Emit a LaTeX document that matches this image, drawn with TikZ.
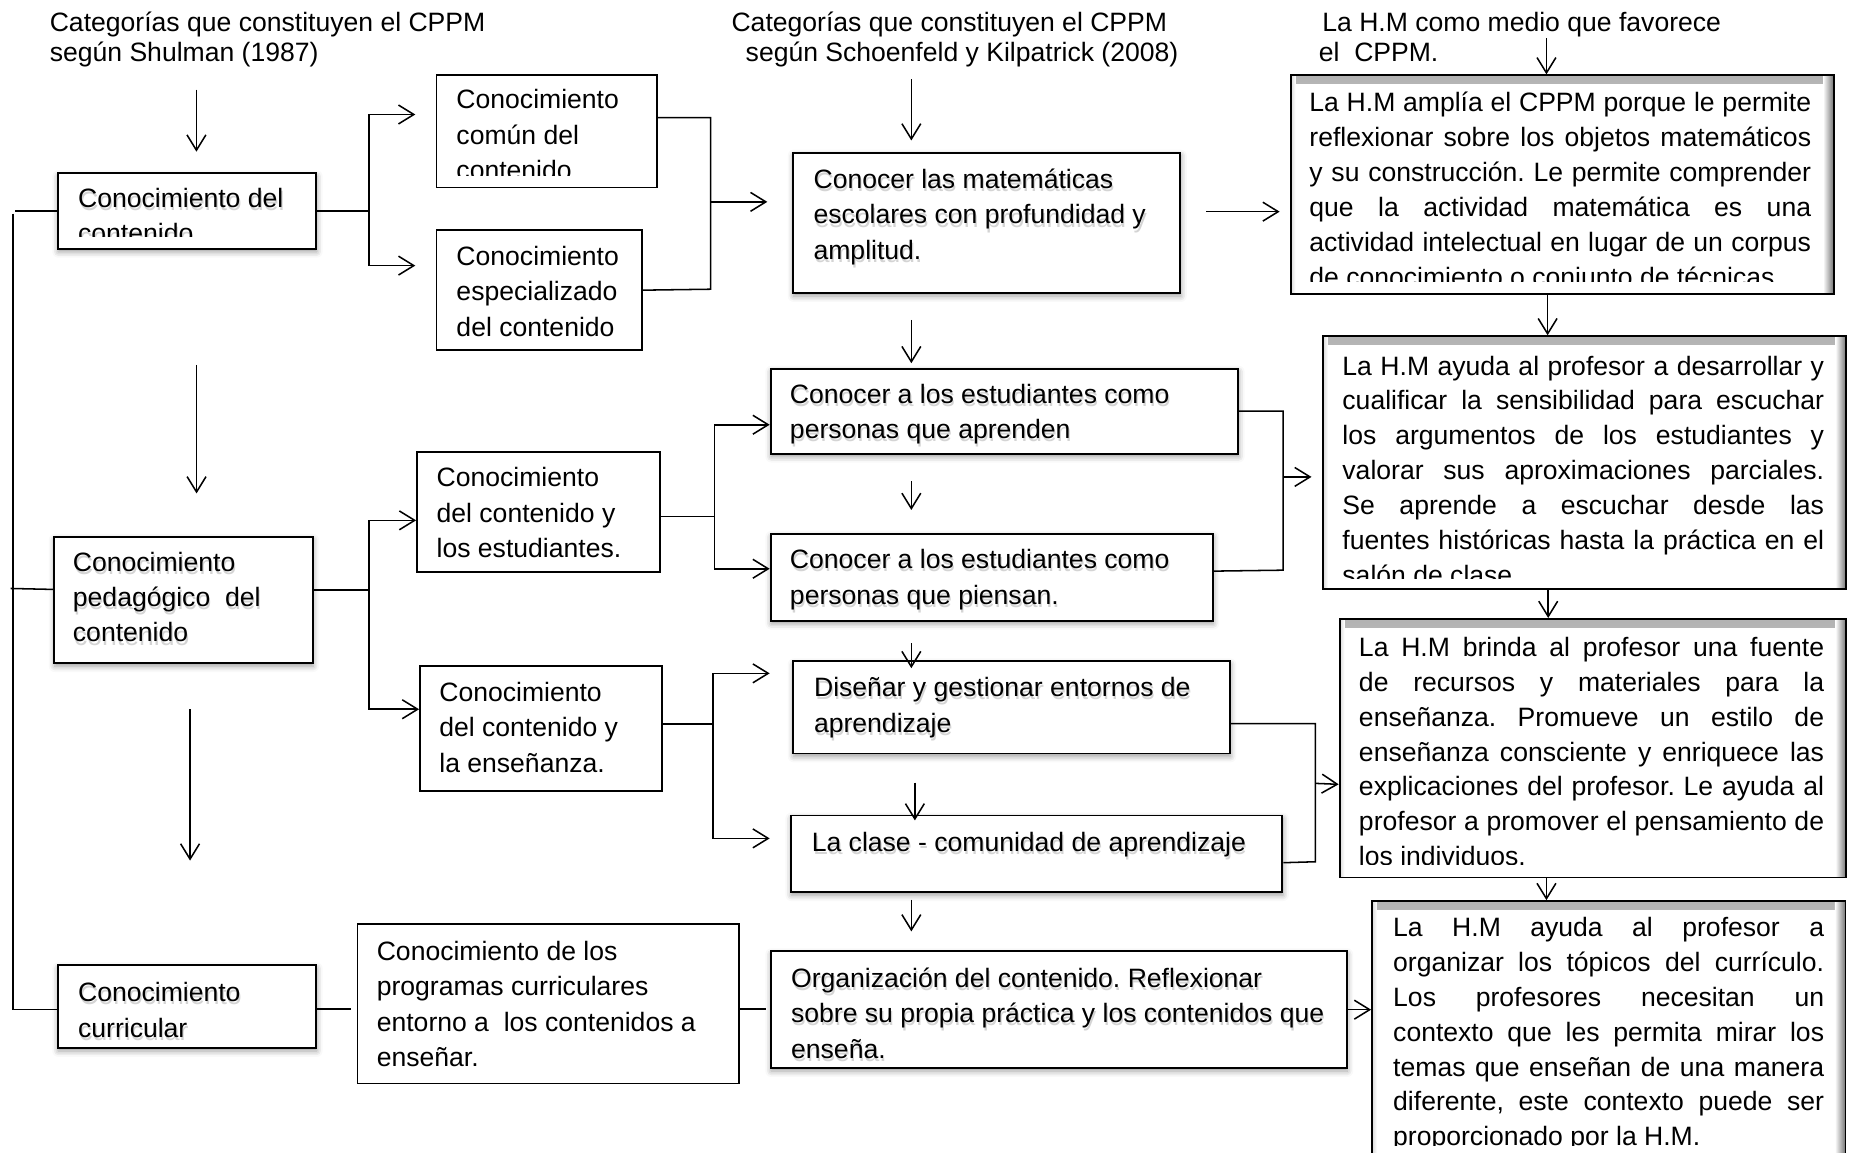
\documentclass[tikz,border=0pt]{standalone}
\usepackage{fontspec}
\setmainfont{Liberation Sans}
\usetikzlibrary{arrows.meta,shadows.blur}
\frenchspacing

% soft grey shadow under a line of text
\newcommand\txsh[1]{%
  \rlap{\smash{\raisebox{-2.6pt}{\kern1pt\textcolor{black!17}{#1}}}}%
  #1}
% a justified line of given width (pt)
\newcommand\jl[2]{\makebox[#1pt][s]{#2}}

\tikzset{
  line/.style={draw=black, line width=1.3pt},
  arr/.style={line, -{Straight Barb[length=13pt,width=16pt]}},
  box/.style={draw=black, line width=1.6pt, fill=white, rectangle,
    inner sep=0pt, anchor=north west},
  shbox/.style={box, blur shadow={shadow xshift=0.5pt, shadow yshift=-2.5pt,
    shadow blur radius=5pt, shadow opacity=40}},
  hbox/.style={box, path picture={
    \shade[top color=black!30, bottom color=white]
      (path picture bounding box.north west) rectangle ([yshift=-7pt]path picture bounding box.north east);
    \shade[left color=black!15, right color=white]
      (path picture bounding box.north west) rectangle ([xshift=4pt]path picture bounding box.south west);
    \shade[left color=white, right color=black!55]
      ([xshift=-9pt]path picture bounding box.north east) rectangle (path picture bounding box.south east);
  }},
  txt/.style={anchor=north west, inner sep=0pt, align=left,
    font=\fontsize{22.5}{30}\selectfont},
  htxt/.style={txt, font=\fontsize{22.5}{29.5}\selectfont},
  ttl/.style={txt, font=\fontsize{22.5}{25.4}\selectfont},
}

\begin{document}
\begin{tikzpicture}[x=1pt,y=-1pt]
\useasboundingbox (0,0) rectangle (1568,976);
\clip (0,0) rectangle (1568,976);

% ---------- headings ----------
\node[ttl] (t1) at (42,9) {\strut Categorías que constituyen el CPPM\\según Shulman (1987)};
\node[ttl] (t2) at (619.5,9) {\strut Categorías que constituyen el CPPM\\\hspace*{12pt}según Schoenfeld y Kilpatrick (2008)};
\node[ttl] (t3) at (1117,9) {\strut\hspace*{3pt}La H.M como medio que favorece\\el~~CPPM.};

% ---------- boxes ----------
\node[shbox, minimum width=219pt, minimum height=64pt]  (cd)   at (48,146) {};
\node[shbox, minimum width=219pt, minimum height=107pt] (cp)   at (45,454) {};
\node[shbox, minimum width=219pt, minimum height=70pt]  (cc)   at (48,817) {};
\node[box,   minimum width=187pt, minimum height=95pt]  (ccc)  at (369,63) {};
\node[box,   minimum width=174pt, minimum height=102pt] (cec)  at (369,194) {};
\node[box,   minimum width=205.5pt, minimum height=101.5pt] (cde) at (352.5,382) {};
\node[box,   minimum width=205pt, minimum height=106pt] (cden) at (355,563.5) {};
\node[box,   minimum width=323pt, minimum height=135pt] (cpc)  at (302,782) {};
\node[shbox, minimum width=328pt, minimum height=119pt] (cm)   at (671,128.5) {};
\node[shbox, minimum width=396pt, minimum height=72pt]  (ce1)  at (652,311.5) {};
\node[shbox, minimum width=374.5pt, minimum height=73.5pt] (ce2) at (652,451.5) {};
\node[shbox, minimum width=370pt, minimum height=78pt]  (dg)   at (671,559.5) {};
\node[shbox, minimum width=416.5pt, minimum height=65pt] (lc)  at (669,690) {};
\node[shbox, minimum width=488pt, minimum height=99pt]  (oc)   at (652,805) {};
\node[hbox,  minimum width=460pt, minimum height=185pt] (h1)   at (1092.5,63) {};
\node[hbox,  minimum width=443pt, minimum height=214pt] (h2)   at (1120,284) {};
\node[hbox,  minimum width=429pt, minimum height=219pt] (h3)   at (1134,523.5) {};
\node[hbox,  minimum width=401pt, minimum height=240pt] (h4)   at (1161.5,762.5) {};

% ---------- box texts ----------
\begin{scope}
  \clip (48,146) rectangle (267,200);
  \node[txt] (cd-t) at (66,154.6) {\strut\txsh{Conocimiento del}\\\txsh{contenido}};
\end{scope}
\begin{scope}
  \clip (369,63) rectangle (556,149);
  \node[txt] (ccc-t) at (386.5,71) {\strut Conocimiento\\común del\\contenido};
\end{scope}
\node[txt] (cec-t) at (386.5,203.5) {\strut Conocimiento\\especializado\\del contenido};
\node[txt] (cp-t) at (61.6,462.6) {\strut\txsh{Conocimiento}\\\txsh{pedagógico~~del}\\\txsh{contenido}};
\node[txt] (cc-t) at (66,827.3) {\strut\txsh{Conocimiento}\\\txsh{curricular}};
\node[txt] (cde-t) at (369.7,391.2) {\strut Conocimiento\\del contenido y\\los estudiantes.};
\node[txt] (cden-t) at (372,573) {\strut Conocimiento\\del contenido y\\la enseñanza.};
\node[txt] (cpc-t) at (319,792.2) {\strut Conocimiento de los\\programas curriculares\\entorno a~~los contenidos a\\enseñar.};
\node[txt] (cm-t) at (689,138.5) {\strut\txsh{Conocer las matemáticas}\\\txsh{escolares con profundidad y}\\\txsh{amplitud.}};
\node[txt] (ce1-t) at (669,320.6) {\strut\txsh{Conocer a los estudiantes como}\\\txsh{personas que aprenden}};
\node[txt] (ce2-t) at (669,460.5) {\strut\txsh{Conocer a los estudiantes como}\\\txsh{personas que piensan.}};
\node[txt] (dg-t) at (689.4,569) {\strut\txsh{Diseñar y gestionar entornos de}\\\txsh{aprendizaje}};
\node[txt] (lc-t) at (687.5,699.8) {\strut\txsh{La clase - comunidad de aprendizaje}};
\node[txt] (oc-t) at (670,815.3) {\strut\txsh{Organización del contenido. Reflexionar}\\\txsh{sobre su propia práctica y los contenidos que}\\\txsh{enseña.}};

\begin{scope}
  \clip (1092.5,63) rectangle (1552.5,238.6);
  \node[htxt] (h1-t) at (1109,73.95) {\strut\jl{425}{La H.M amplía el CPPM porque le permite}\\
    \jl{425}{reflexionar sobre los objetos matemáticos}\\
    \jl{425}{y su construcción. Le permite comprender}\\
    \jl{425}{que la actividad matemática es una}\\
    \jl{425}{actividad intelectual en lugar de un corpus}\\
    de conocimiento o conjunto de técnicas.};
\end{scope}
\begin{scope}
  \clip (1120,284) rectangle (1563,490);
  \node[htxt] (h2-t) at (1137,296.95) {\strut\jl{408}{La H.M ayuda al profesor a desarrollar y}\\
    \jl{408}{cualificar la sensibilidad para escuchar}\\
    \jl{408}{los argumentos de los estudiantes y}\\
    \jl{408}{valorar sus aproximaciones parciales.}\\
    \jl{408}{Se aprende a escuchar desde las}\\
    \jl{408}{fuentes históricas hasta la práctica en el}\\
    salón de clase.};
\end{scope}
\begin{scope}
  \clip (1134,523.5) rectangle (1563,732.7);
  \node[htxt] (h3-t) at (1151,535.35) {\strut\jl{394}{La H.M brinda al profesor una fuente}\\
    \jl{394}{de recursos y materiales para la}\\
    \jl{394}{enseñanza. Promueve un estilo de}\\
    \jl{394}{enseñanza consciente y enriquece las}\\
    \jl{394}{explicaciones del profesor. Le ayuda al}\\
    \jl{394}{profesor a promover el pensamiento de}\\
    los individuos.};
\end{scope}
\begin{scope}
  \clip (1161.5,762.5) rectangle (1563,970);
  \node[htxt] (h4-t) at (1180,772.75) {\strut\jl{365}{La H.M ayuda al profesor a}\\
    \jl{365}{organizar los tópicos del currículo.}\\
    \jl{365}{Los profesores necesitan un}\\
    \jl{365}{contexto que les permita mirar los}\\
    \jl{365}{temas que enseñan de una manera}\\
    \jl{365}{diferente, este contexto puede ser}\\
    proporcionado por la H.M.};
\end{scope}

% ---------- free arrow ends ----------
\coordinate (a1s) at (166.4,76);   \coordinate (a1e) at (166.4,128.5);
\coordinate (a2s) at (166.5,309);  \coordinate (a2e) at (166.5,418);
\coordinate (a3s) at (161,601);    \coordinate (a3e) at (161,729);
\coordinate (b1s) at (772,67);     \coordinate (b1e) at (772,119);
\coordinate (b2s) at (772,271);    \coordinate (b2e) at (772,307.7);
\coordinate (b3s) at (772,407.5);  \coordinate (b3e) at (772,432);
\coordinate (b4s) at (772,545);    \coordinate (b4e) at (772,566);
\coordinate (b5s) at (775,663);    \coordinate (b5e) at (775,695);
\coordinate (b6s) at (772,762);    \coordinate (b6e) at (772,789);
\coordinate (cmh) at (1022,179.3); \coordinate (h1in) at (1084,179.3);
\coordinate (t3s) at (1310,32.5);
\coordinate (cccin) at (351.8,97); \coordinate (cecin) at (351.8,225);
\coordinate (cmin) at (650,171);
\coordinate (dgin) at (652,570.4); \coordinate (lcin) at (652,710.2);
\coordinate (h2in) at (1111,404);

% ---------- vertical arrows ----------
\draw[arr] (a1s) -- (a1e);
\draw[arr] (a2s) -- (a2e);
\draw[arr] (a3s) -- (a3e);
\draw[arr] (b1s) -- (b1e);
\draw[arr] (b2s) -- (b2e);
\draw[arr] (b3s) -- (b3e);
\draw[arr] (b4s) -- (b4e);
\draw[arr] (b5s) -- (b5e);
\draw[arr] (b6s) -- (b6e);
\draw[arr] (t3s) -- (t3s |- h1.north);
\draw[arr] (h1.south -| 1311,0) -- (h2.north -| 1311,0);
\draw[arr] (h2.south -| 1311.5,0) -- (h3.north -| 1311.5,0);
\draw[arr] (h3.south -| 1310,0) -- (h4.north -| 1310,0);
\draw[arr] (cmh) -- (h1in);

% ---------- left spine ----------
\draw[line] (cd.west) -- ++(-35,0);
\draw[line] (11,181) |- ([yshift=-2.5pt]cc.west);
\draw[line] (9,498.5) -- ([yshift=9pt]cp.west);

% ---------- content knowledge branch ----------
\draw[arr] (cd.east) -- ++(43.8,0) |- (cccin);
\draw[arr] (cd.east) -- ++(43.8,0) |- (cecin);
\draw[line] ([yshift=11.7pt]ccc.east) -| (602,245) -- (cec.east);
\draw[arr] (602,171) -- (cmin);

% ---------- pedagogical knowledge branch ----------
\draw[arr] ([yshift=8.3pt]cp.east) -- ++(46.9,0) |- ([yshift=-7.25pt]cde.west);
\draw[arr] ([yshift=8.3pt]cp.east) -- ++(46.9,0) |- ([yshift=16.5pt]cden.west);
\draw[arr] ([yshift=-4pt]cde.east) -- ++(45.5,0) |- ([yshift=-11.5pt]ce1.west);
\draw[arr] ([yshift=-4pt]cde.east) -- ++(45.5,0) |- ([yshift=7.25pt]ce2.west);
\draw[arr] ([yshift=3.8pt]cden.east) -- ++(42.3,0) |- (dgin);
\draw[arr] ([yshift=3.8pt]cden.east) -- ++(42.3,0) |- (lcin);
\draw[line] (ce1.east) -| (1087,483) -- ([yshift=5.25pt]ce2.east);
\draw[arr] (1087,404) -- (h2in);
\draw[line] ([yshift=-13.7pt]dg.east) -| (1114.2,730) -- ([yshift=-7.5pt]lc.east);
\draw[arr] (1114.2,663.6) -- ([yshift=-30.6pt]h3.west);

% ---------- curricular knowledge row ----------
\draw[line] ([yshift=-2pt]cc.east) -- ++(29,0);
\draw[line] ([yshift=-4.5pt]cpc.east) -- ++(22,0);
\draw[arr] (oc.east) -- (oc.east -| h4.west);
\end{tikzpicture}
\end{document}
